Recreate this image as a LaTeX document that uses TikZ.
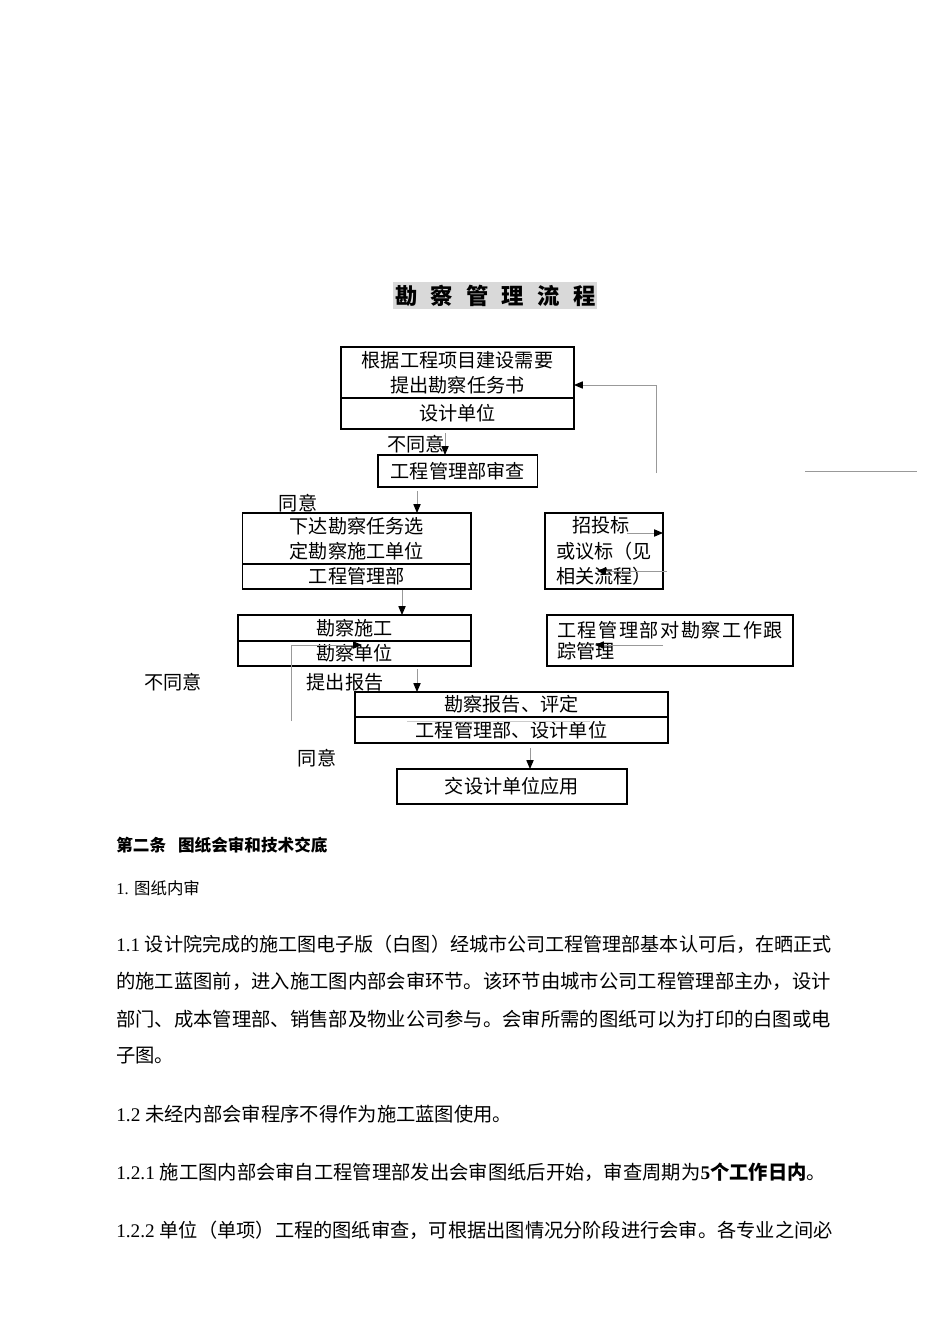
\documentclass[tikz,border=0pt]{standalone}
\usepackage{fontspec}
\setmainfont{Liberation Serif}
\newfontfamily\cjk{Noto Sans CJK SC}
\usetikzlibrary{positioning, arrows.meta}
\definecolor{titlegray}{rgb}{0.85,0.85,0.85}
\definecolor{linegray}{rgb}{0.6,0.6,0.6}
\definecolor{faintgray}{rgb}{0.8,0.8,0.8}
\newdimen\pxl
\pxl=0.6265pt
\newcommand\trk{\hspace{0.95pt}}

\begin{document}
\begin{tikzpicture}[
  x=0.6265pt, y=-0.6265pt,
  every node/.style={inner sep=0pt},
  flowbox/.style 2 args={
    draw,
    line width=0.7pt,
    outer sep=0pt,
    minimum width=#1*\pxl,
    minimum height=#2*\pxl,
    align=center,
    font=\cjk\fontsize{12pt}{16pt}\selectfont,
  },
  title box/.style={
    fill=titlegray,
    minimum width=204*\pxl,
    minimum height=27*\pxl,
    font=\cjk\bfseries\fontsize{14pt}{16pt}\selectfont,
  },
  note/.style={font=\cjk\fontsize{12pt}{16pt}\selectfont},
  body/.style={anchor=west, font=\fontsize{12.1pt}{15pt}\selectfont},
  flow/.style={
    draw=linegray,
    line width=0.6pt,
    -{Triangle[length=5.5pt, width=4.5pt, color=black]},
  },
  plain line/.style={draw=linegray, line width=0.6pt},
  faint line/.style={draw=faintgray, line width=0.6pt},
]

\useasboundingbox[fill=white] (0,0) rectangle (950,1344);

% title
\node[title box] (title) at (495.3,295.8)
  {勘\hspace{8.3pt}察\hspace{8.3pt}管\hspace{8.3pt}理\hspace{8.3pt}流\hspace{8.3pt}程};

% flow chart boxes
\node[flowbox={233}{51}] (b1top) at (457.5,372.5) {根据工程项目建设需要\\提出勘察任务书};
\node[flowbox={233}{31}, below=0pt of b1top] (b1bot) {设计单位};

\node[flowbox={159.5}{32}] (b2) at (457.75,471) {工程管理部审查};

\node[flowbox={228.5}{51}] (b3top) at (356.75,538.5) {下达勘察任务选\\定勘察施工单位};
\node[flowbox={228.5}{25}, below=0pt of b3top] (b3bot) {工程管理部};

\node[flowbox={233}{26}] (b4top) at (354.5,628) {勘察施工};
\node[flowbox={233}{25}, below=0pt of b4top] (b4bot) {勘察单位};

\node[flowbox={313}{25}] (b5top) at (511.5,704.5) {勘察报告、评定};
\node[flowbox={313}{26}, below=0pt of b5top] (b5bot) {工程管理部、设计单位};

\node[flowbox={230}{35}] (b6) at (512,786.5) {交设计单位应用};

\node[flowbox={118}{76}, align=left] (bid) at (604,551)
  {\hspace{10pt}招投标\\或议标（见\\相关流程）};
\node[flowbox={246}{51}, align=left, font=\cjk\fontsize{12pt}{13.5pt}\selectfont] (track) at (670,640.5)
  {工\trk 程\trk 管\trk 理\trk 部\trk 对\trk 勘\trk 察\trk 工\trk 作\trk 跟\\踪管理};

% labels
\node[note] (nodis1) at (416,444) {不同意};
\node[note] (agree1) at (298,503) {同意};
\node[note] (nodis2) at (173,682) {不同意};
\node[note] (report) at (345,682) {提出报告};
\node[note] (agree2) at (317,758) {同意};

% connectors
\coordinate (fbfoot) at (656,473);
\coordinate (fbknee) at (656,385);
\draw[flow] (fbfoot) -- (fbknee) -- (fbknee -| b1top.east);

\coordinate (nofoot) at (445,433);
\draw[flow] (nofoot) -- (nofoot |- b2.north);

\coordinate (c23) at (417,491);
\draw[flow] (c23) -- (c23 |- b3top.north);
\coordinate (c34) at (402,590);
\draw[flow] (c34) -- (c34 |- b4top.north);
\coordinate (c45) at (417,669);
\draw[flow] (c45) -- (c45 |- b5top.north);
\coordinate (c56) at (530,748);
\draw[flow] (c56) -- (c56 |- b6.north);

\coordinate (loopfoot) at (291,721);
\coordinate (loopknee) at (291,645);
\coordinate (looptip) at (362,645);
\draw[flow] (loopfoot) -- (loopknee) -- (looptip);

\coordinate (faintA) at (407,721);
\coordinate (faintB) at (590,721);
\draw[faint line] (faintA) -- (faintB);

\coordinate (bidA) at (627,533);
\draw[flow] (bidA) -- (bid.east |- bidA);
\coordinate (bidB) at (667,571);
\coordinate (bidC) at (597,571);
\draw[flow] (bidB) -- (bidC);

\coordinate (trkA) at (663,645);
\coordinate (trkB) at (595,645);
\draw[flow] (trkA) -- (trkB);

\coordinate (strayA) at (805,471);
\coordinate (strayB) at (917,471);
\draw[plain line] (strayA) -- (strayB);

% text below the chart
\node[body, font=\fontsize{10.4pt}{12pt}\selectfont\bfseries] (sec2) at (116,845)
  {{\cjk 第二条\hspace{7.5pt}图纸会审和技术交底}};
\node[body, font=\fontsize{10.3pt}{12pt}\selectfont] (sub1) at (116,888) {1. {\cjk 图纸内审}};

\node[body, font=\fontsize{11.95pt}{15pt}\selectfont] (l1) at (116,944)
  {1.1 {\cjk 设计院完成的施工图电子版（白图）经城市公司工程管理部基本认可后，在晒正式}};
\node[body] (l2) at (116,981.5)
  {{\cjk 的施工蓝图前，进入施工图内部会审环节。该环节由城市公司工程管理部主办，设计}};
\node[body] (l3) at (116,1019)
  {{\cjk 部门、成本管理部、销售部及物业公司参与。会审所需的图纸可以为打印的白图或电}};
\node[body] (l4) at (116,1056) {{\cjk 子图。}};
\node[body] (l5) at (116,1114) {1.2 {\cjk 未经内部会审程序不得作为施工蓝图使用。}};
\node[body] (l6) at (116,1172)
  {1.2.1 {\cjk 施工图内部会审自工程管理部发出会审图纸后开始，审查周期为}\textbf{5{\cjk 个工作日内}}{\cjk 。}};
\node[body, font=\fontsize{12.05pt}{15pt}\selectfont] (l7) at (116,1230)
  {1.2.2 {\cjk 单位（单项）工程的图纸审查，可根据出图情况分阶段进行会审。各专业之间必}};

\end{tikzpicture}
\end{document}
